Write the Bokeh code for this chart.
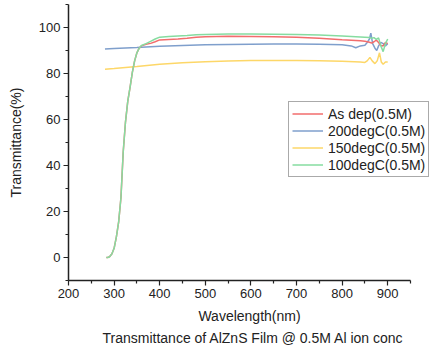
from bokeh.plotting import figure
from bokeh.models import Legend, LegendItem, FixedTicker, Range1d, Title
from bokeh.embed import file_html
from bokeh.resources import INLINE

# ---------------- data ----------------
wl_asdep = [283, 286, 290, 295, 300, 305, 310, 315, 320, 325, 330, 335, 340, 345,
            350, 355, 360, 370, 380, 390, 400, 420, 440, 460, 480, 500, 550, 600,
            650, 700, 750, 800, 820, 840, 850, 860, 865, 870, 875, 880, 885, 890,
            895, 900]
t_asdep = [0.0, 0.0, 0.3, 1.5, 4.0, 9.0, 15.5, 26.0, 46.0, 59.0, 68.0, 74.0, 80.5,
           85.5, 89.0, 91.0, 92.0, 92.7, 93.1, 93.8, 94.6, 94.8, 95.0, 95.3, 95.8,
           96.0, 96.2, 96.1, 96.0, 95.8, 95.3, 94.7, 94.5, 94.2, 94.0, 93.6, 93.2,
           93.8, 94.5, 93.5, 92.2, 92.0, 93.5, 93.0]

wl_100 = wl_asdep
t_100 = [0.0, 0.0, 0.3, 1.5, 4.0, 9.0, 15.5, 26.0, 46.0, 59.0, 68.0, 74.0, 80.5,
         85.5, 89.0, 91.0, 92.2, 93.0, 94.0, 95.0, 95.8, 96.1, 96.3, 96.5, 96.8,
         97.0, 97.2, 97.2, 97.1, 97.0, 96.7, 96.3, 96.1, 95.9, 95.8, 95.6, 95.3,
         95.6, 94.8, 95.5, 92.0, 89.5, 93.0, 95.0]

wl_200 = [280, 300, 350, 400, 450, 500, 550, 600, 650, 700, 750, 800, 820, 830,
          840, 850, 855, 860, 863, 867, 872, 876, 880, 885, 890, 895, 900]
t_200 = [90.6, 90.9, 91.3, 91.8, 92.2, 92.5, 92.6, 92.7, 92.8, 92.8, 92.7, 92.5,
         92.0, 91.2, 92.0, 92.3, 93.5, 95.0, 97.5, 93.0, 91.0, 90.0, 92.0, 93.5,
         93.0, 92.0, 93.0]

wl_150 = [280, 300, 350, 400, 450, 500, 550, 600, 650, 700, 750, 800, 840, 850,
          855, 861, 866, 872, 877, 882, 886, 890, 895, 900]
t_150 = [81.9, 82.2, 83.0, 84.0, 84.7, 85.1, 85.4, 85.6, 85.6, 85.6, 85.5, 85.3,
         85.0, 84.8, 85.5, 87.0, 85.5, 84.3, 85.5, 89.0, 85.0, 84.0, 85.0, 85.0]

x_major = [200, 300, 400, 500, 600, 700, 800, 900]
x_minor = [250, 350, 450, 550, 650, 750, 850, 950]
y_major = [0, 20, 40, 60, 80, 100]
y_minor = [-10, 10, 30, 50, 70, 90, 110]

labels = ["As dep(0.5M)", "200degC(0.5M)", "150degC(0.5M)", "100degC(0.5M)"]
colors = ["#f26d6d", "#7f9fcc", "#fdd768", "#86dca0"]

FONT = "Liberation Sans"

# frame: 342px for 200..950 on the axis; extra 20px on the right for the legend
px_per_nm = 342 / 750.0
x_end = 200 + 362 / px_per_nm

p = figure(output_backend="svg", toolbar_location=None,
           frame_width=362, frame_height=276,
           x_range=Range1d(200, x_end), y_range=Range1d(-10, 110),
           min_border_left=68, min_border_right=0, min_border_top=4,
           min_border_bottom=68)
p.outline_line_color = None
p.grid.visible = False
p.background_fill_color = "white"
p.border_fill_color = "white"

series = [(wl_asdep, t_asdep), (wl_200, t_200), (wl_150, t_150), (wl_100, t_100)]
order = [2, 1, 0, 3]
rmap = {}
for i in order:
    xs, ys = series[i]
    rmap[i] = p.line(xs, ys, line_color=colors[i], line_width=1.5)

for ax in (p.xaxis[0], p.yaxis[0]):
    ax.axis_line_color = "#222222"
    ax.axis_line_width = 1.5
    ax.major_tick_line_color = "#222222"
    ax.minor_tick_line_color = "#222222"
    ax.major_tick_line_width = 1.2
    ax.minor_tick_line_width = 1.2
    ax.major_tick_out = 5
    ax.major_tick_in = 0
    ax.minor_tick_out = 3
    ax.minor_tick_in = 0
    ax.major_label_text_font = FONT
    ax.major_label_text_font_size = "13px"
    ax.major_label_text_color = "#222222"
    ax.axis_label_text_font = FONT
    ax.axis_label_text_font_size = "14px"
    ax.axis_label_text_font_style = "normal"
    ax.axis_label_text_color = "#222222"

p.xaxis[0].bounds = (200, 950)
p.xaxis[0].ticker = FixedTicker(ticks=x_major, minor_ticks=x_minor)
p.yaxis[0].ticker = FixedTicker(ticks=y_major, minor_ticks=y_minor)
p.xaxis[0].axis_label = "Wavelength(nm)"
p.yaxis[0].axis_label = "Transmittance(%)"
p.xaxis[0].major_label_standoff = 3
p.yaxis[0].major_label_standoff = 3
p.xaxis[0].axis_label_standoff = 7
p.yaxis[0].axis_label_standoff = 12

bottom_title = Title(text="Transmittance of AlZnS Film @ 0.5M Al ion conc",
                     align="left", offset=34, text_font=FONT,
                     text_font_size="14px", text_font_style="normal",
                     text_color="#222222", standoff=2)
p.add_layout(bottom_title, "below")

items = [LegendItem(label=labels[i], renderers=[rmap[i]]) for i in range(4)]
legend = Legend(items=items, location=(220, 103), orientation="vertical",
                label_text_font=FONT, label_text_font_size="14px",
                label_text_color="#222222", glyph_width=31, glyph_height=17,
                label_height=17, label_standoff=5, spacing=0, padding=3,
                margin=0, border_line_color="#555555", border_line_width=1,
                background_fill_color="white", background_fill_alpha=1.0)
p.add_layout(legend, "center")

open("out.html", "w").write(file_html(p, INLINE))
